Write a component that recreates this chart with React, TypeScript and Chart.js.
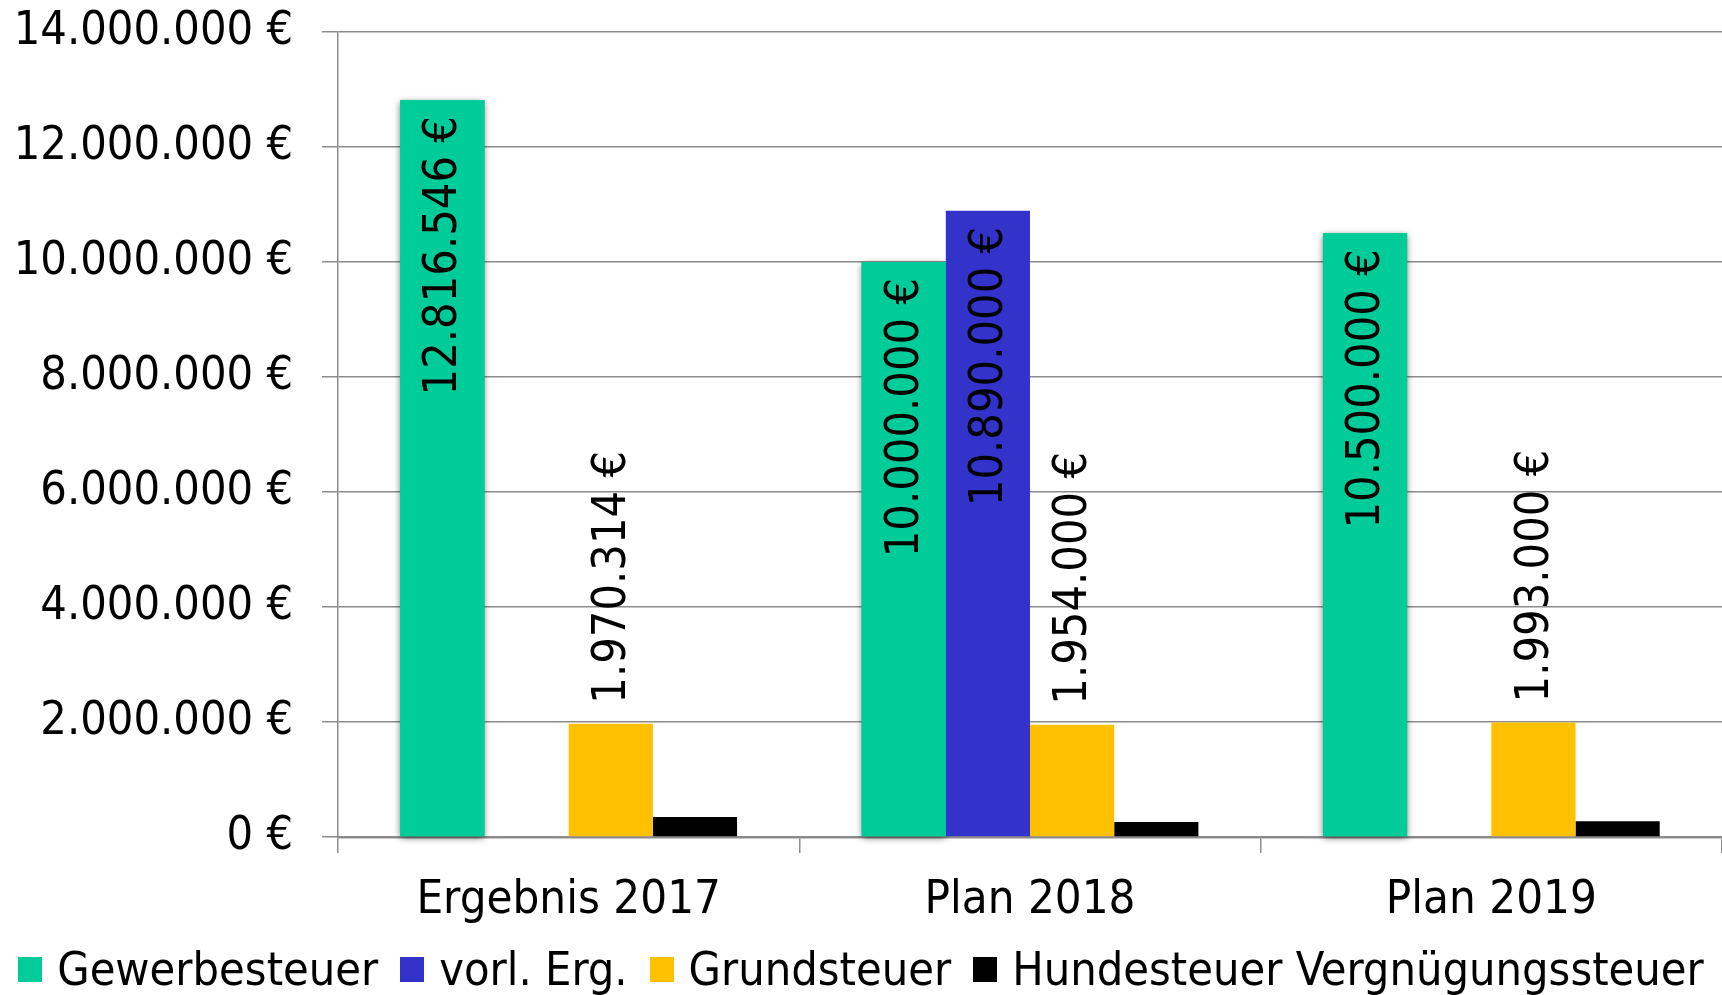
import React, { useEffect, useRef } from "react";
import { Chart, registerables } from "chart.js";

Chart.register(...registerables);

const categories = ["Ergebnis 2017", "Plan 2018", "Plan 2019"];
const seriesNames = ["Gewerbesteuer", "vorl. Erg.", "Grundsteuer", "Hundesteuer Vergnügungssteuer"];
const gewerbesteuer = [12816546, 10000000, 10500000];
const vorlErg = [null, 10890000, null];
const grundsteuer = [1970314, 1954000, 1993000];
const hundesteuer = [350000, 260000, 275000];
const seriesColors = ["#00CC99", "#3333CC", "#FFC000", "#000000"];
const labelledSeries = [0, 1, 2];
const yMax = 14000000;
const yStep = 2000000;

const FONT = "'DejaVu Sans Condensed', 'DejaVu Sans', sans-serif";

function fmt(v: number): string {
  const s = Math.round(v).toString();
  return s.replace(/\B(?=(\d{3})+(?!\d))/g, ".") + " €";
}

const shadowPlugin = {
  id: "greenShadow",
  beforeDatasetsDraw(chart: any) {
    const ctx = chart.ctx;
    const meta = chart.getDatasetMeta(0);
    ctx.save();
    ctx.shadowColor = "rgba(0,0,0,0.6)";
    ctx.shadowBlur = 7;
    ctx.shadowOffsetX = 0;
    ctx.shadowOffsetY = 2;
    ctx.fillStyle = seriesColors[0];
    meta.data.forEach((el: any) => {
      const p = el.getProps(["x", "y", "base", "width"], true);
      ctx.fillRect(p.x - p.width / 2, p.y, p.width, p.base - p.y);
    });
    ctx.restore();
  },
};

const labelPlugin = {
  id: "rotLabels",
  afterDatasetsDraw(chart: any) {
    const ctx = chart.ctx;
    ctx.save();
    ctx.font = `46.5px ${FONT}`;
    ctx.fillStyle = "#000";
    ctx.textBaseline = "middle";
    labelledSeries.forEach((di) => {
      const meta = chart.getDatasetMeta(di);
      const data = chart.data.datasets[di].data;
      meta.data.forEach((el: any, i: number) => {
        const v = data[i];
        if (v === null || v === undefined) return;
        const p = el.getProps(["x", "y"], true);
        ctx.save();
        if (di === 2) {
          ctx.translate(p.x + 2, p.y - 20);
          ctx.rotate(-Math.PI / 2);
          ctx.textAlign = "left";
        } else {
          ctx.translate(p.x + 2, p.y + 16);
          ctx.rotate(-Math.PI / 2);
          ctx.textAlign = "right";
        }
        ctx.fillText(fmt(v), 0, 0);
        ctx.restore();
      });
    });
    ctx.restore();
  },
};

export default function App() {
  const ref = useRef<HTMLCanvasElement | null>(null);

  useEffect(() => {
    document.body.style.margin = "0";
    const canvas = ref.current;
    if (!canvas) return;
    const series = [gewerbesteuer, vorlErg, grundsteuer, hundesteuer];
    const chart = new Chart(canvas, {
      type: "bar",
      data: {
        labels: categories,
        datasets: series.map((d, i) => ({
          label: seriesNames[i],
          data: d as any,
          backgroundColor: seriesColors[i],
          borderWidth: 0,
          categoryPercentage: 0.73,
          barPercentage: 1.0,
        })),
      },
      options: {
        animation: false,
        responsive: false,
        maintainAspectRatio: false,
        layout: { padding: { top: 32, left: 0, right: -8, bottom: 65 } },
        plugins: {
          tooltip: { enabled: false },
          legend: { display: false },
        },
        scales: {
          x: {
            offset: true,
            grid: {
              offset: true,
              drawOnChartArea: false,
              drawTicks: true,
              tickLength: 16,
              color: "#8c8c8c",
              lineWidth: 1.5,
            },
            border: { display: true, color: "#8c8c8c", width: 2.5 },
            ticks: {
              font: { family: FONT, size: 47 },
              color: "#000",
              padding: 20,
              maxRotation: 0,
            },
            afterFit: (scale: any) => {
              scale.height = 93;
            },
          },
          y: {
            min: 0,
            max: yMax,
            ticks: {
              stepSize: yStep,
              font: { family: FONT, size: 46.5 },
              color: "#000",
              padding: 29,
              callback: (v: any) => fmt(Number(v)),
            },
            grid: {
              color: "#8c8c8c",
              lineWidth: 1.5,
              tickLength: 16,
            },
            border: { display: true, color: "#8c8c8c", width: 1.5 },
            afterFit: (scale: any) => {
              scale.width = 338;
              scale.paddingTop = 0;
              scale.paddingBottom = 0;
            },
          },
        },
      },
      plugins: [shadowPlugin, labelPlugin],
    });
    return () => chart.destroy();
  }, []);

  const legendItem = (i: number) => (
    <div key={i} style={{ display: "flex", alignItems: "center", marginRight: i < seriesNames.length - 1 ? 22 : 0 }}>
      <span
        style={{
          display: "inline-block",
          width: 24,
          height: 25,
          background: seriesColors[i],
          marginRight: 15,
        }}
      />
      <span>{seriesNames[i]}</span>
    </div>
  );

  return (
    <div style={{ position: "relative", width: 1722, height: 995, background: "#fff", overflow: "hidden" }}>
      <canvas ref={ref} width={1722} height={995} style={{ display: "block" }} />
      <div
        style={{
          position: "absolute",
          left: 0,
          width: 1722,
          top: 941,
          height: 56,
          display: "flex",
          justifyContent: "center",
          alignItems: "center",
          fontFamily: FONT,
          fontSize: 46.5,
          lineHeight: "56px",
          color: "#000",
          whiteSpace: "nowrap",
        }}
      >
        {seriesNames.map((_, i) => legendItem(i))}
      </div>
    </div>
  );
}
